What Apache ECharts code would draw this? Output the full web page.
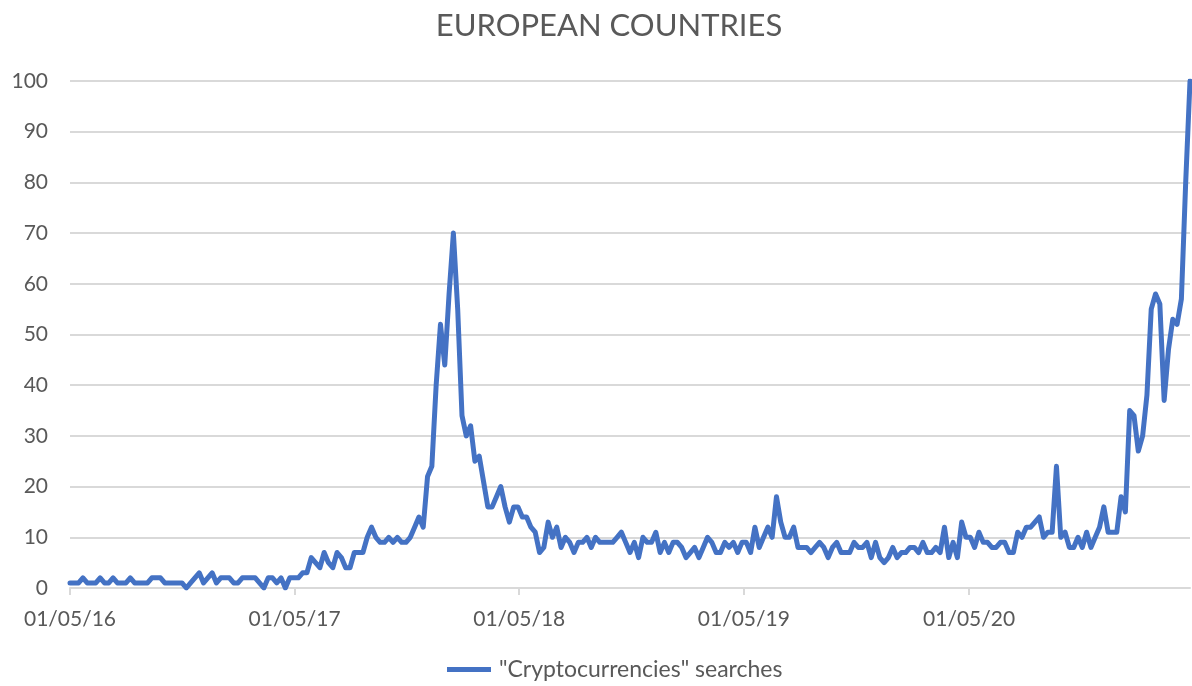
<!DOCTYPE html>
<html>
<head>
<meta charset="utf-8">
<title>European countries – "Cryptocurrencies" searches</title>
<script src="https://cdn.jsdelivr.net/npm/echarts@6/dist/echarts.min.js"></script>
<style>
  html, body { margin: 0; padding: 0; background: #ffffff; }
  #chart { width: 1192px; height: 686px; }
</style>
</head>
<body>
<div id="chart"></div>
<script>
// Weekly search interest, first week starting 1 May 2016
const firstWeek = '2016-05-01';
const seriesName = '"Cryptocurrencies" searches';
const searches = [
  1, 1, 1, 2, 1, 1, 1, 2, 1, 1,
  2, 1, 1, 1, 2, 1, 1, 1, 1, 2,
  2, 2, 1, 1, 1, 1, 1, 0, 1, 2,
  3, 1, 2, 3, 1, 2, 2, 2, 1, 1,
  2, 2, 2, 2, 1, 0, 2, 2, 1, 2,
  0, 2, 2, 2, 3, 3, 6, 5, 4, 7,
  5, 4, 7, 6, 4, 4, 7, 7, 7, 10,
  12, 10, 9, 9, 10, 9, 10, 9, 9, 10,
  12, 14, 12, 22, 24, 40, 52, 44, 58, 70,
  55, 34, 30, 32, 25, 26, 21, 16, 16, 18,
  20, 16, 13, 16, 16, 14, 14, 12, 11, 7,
  8, 13, 10, 12, 8, 10, 9, 7, 9, 9,
  10, 8, 10, 9, 9, 9, 9, 10, 11, 9,
  7, 9, 6, 10, 9, 9, 11, 7, 9, 7,
  9, 9, 8, 6, 7, 8, 6, 8, 10, 9,
  7, 7, 9, 8, 9, 7, 9, 9, 7, 12,
  8, 10, 12, 10, 18, 13, 10, 10, 12, 8,
  8, 8, 7, 8, 9, 8, 6, 8, 9, 7,
  7, 7, 9, 8, 8, 9, 6, 9, 6, 5,
  6, 8, 6, 7, 7, 8, 8, 7, 9, 7,
  7, 8, 7, 12, 6, 9, 6, 13, 10, 10,
  8, 11, 9, 9, 8, 8, 9, 9, 7, 7,
  11, 10, 12, 12, 13, 14, 10, 11, 11, 24,
  10, 11, 8, 8, 10, 8, 11, 8, 10, 12,
  16, 11, 11, 11, 18, 15, 35, 34, 27, 30,
  38, 55, 58, 56, 37, 47, 53, 52, 57, 80,
  100
];
// Dates shown on the horizontal axis
const tickDates = ['2016-05-01', '2017-05-01', '2018-05-01', '2019-05-01', '2020-05-01'];
const yTicks = { min: 0, max: 100, step: 10 };

const DAY = 86400000;
const WEEK = 7 * DAY;
const t0 = Date.parse(firstWeek + 'T00:00:00Z');
const points = searches.map((v, i) => [t0 + i * WEEK, v]);
const tEnd = t0 + (searches.length - 1) * WEEK;
const tickTimes = tickDates.map(d => Date.parse(d + 'T00:00:00Z'));

function pad(n) { return (n < 10 ? '0' : '') + n; }
function fmtDate(ms) {
  const d = new Date(ms);
  return pad(d.getUTCDate()) + '/' + pad(d.getUTCMonth() + 1) + '/' + pad(d.getUTCFullYear() % 100);
}

const FONT = 'Lato, "Open Sans", "DejaVu Sans", sans-serif';
const TEXT = '#595959';
const GRID = '#d9d9d9';
const BLUE = '#4472C4';

const chart = echarts.init(document.getElementById('chart'), null, { renderer: 'canvas' });
chart.setOption({
  backgroundColor: '#ffffff',
  animation: false,
  textStyle: { fontFamily: FONT },
  title: {
    text: 'EUROPEAN COUNTRIES',
    left: 604,
    textAlign: 'center',
    top: 5,
    textStyle: { fontFamily: FONT, fontSize: 31, fontWeight: 'normal', color: TEXT }
  },
  legend: {
    data: [seriesName],
    bottom: 0,
    left: 442,
    icon: 'rect',
    itemWidth: 44,
    itemHeight: 5,
    textStyle: { fontFamily: FONT, fontSize: 23, color: TEXT, padding: [0, 0, 0, 3] }
  },
  grid: { left: 70, right: 2, top: 81, bottom: 98, containLabel: false },
  xAxis: {
    type: 'value',
    min: t0,
    max: tEnd,
    axisLine: { show: true, lineStyle: { color: GRID, width: 2 } },
    axisTick: { show: true, length: 7, lineStyle: { color: GRID, width: 2 }, customValues: tickTimes },
    axisLabel: {
      customValues: tickTimes,
      formatter: v => fmtDate(v),
      color: TEXT,
      fontFamily: FONT,
      fontSize: 21,
      margin: 21,
      hideOverlap: false
    },
    splitLine: { show: false }
  },
  yAxis: {
    type: 'value',
    min: yTicks.min,
    max: yTicks.max,
    interval: yTicks.step,
    axisLine: { show: false },
    axisTick: { show: false },
    axisLabel: { color: TEXT, fontFamily: FONT, fontSize: 21, margin: 22 },
    splitLine: { show: true, lineStyle: { color: GRID, width: 2 } }
  },
  series: [{
    name: seriesName,
    type: 'line',
    data: points,
    showSymbol: false,
    symbol: 'none',
    color: BLUE,
    lineStyle: { color: BLUE, width: 5, join: 'round', cap: 'round' }
  }]
});
</script>
</body>
</html>
